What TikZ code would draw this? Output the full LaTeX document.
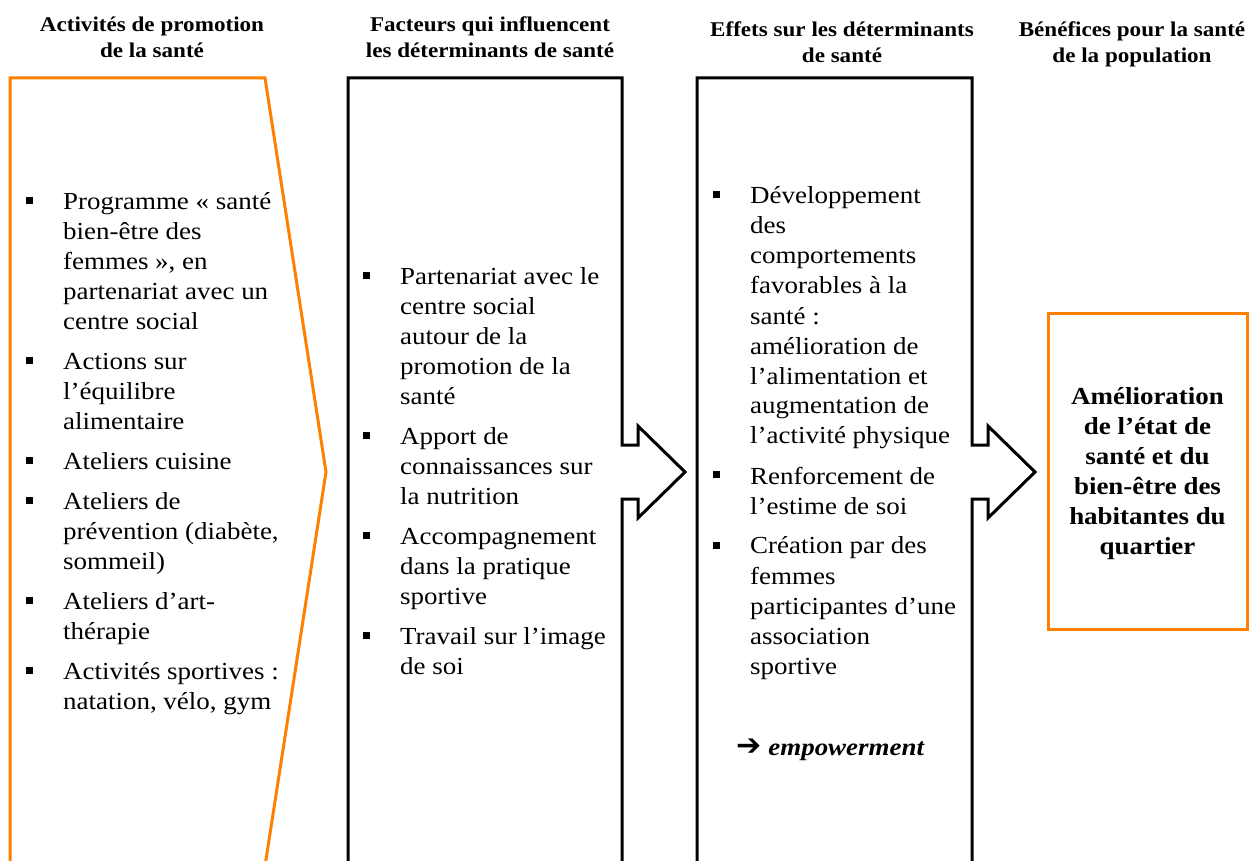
\documentclass[tikz,border=0pt]{standalone}
\usepackage{fontspec}
\setmainfont{Liberation Serif}[FakeStretch=1.1]
\newfontfamily\symfont{DejaVu Sans}
\definecolor{orng}{RGB}{255,128,0}
\newcommand{\bl}{\leavevmode\llap{\rule[5.5pt]{7pt}{7pt}\hspace{30.5pt}}}
\tikzset{
  shapeline/.style={line width=3pt, line join=miter},
  orangeline/.style={shapeline, draw=orng},
  blackline/.style={shapeline, draw=black},
  bodytxt/.style={inner sep=0pt, anchor=base west, font=\fontsize{24.5}{30}\selectfont},
  boldtxt/.style={inner sep=0pt, anchor=base, font=\fontsize{24.5}{30}\selectfont\bfseries},
  hdr/.style={inner sep=0pt, anchor=base, font=\fontsize{21}{26}\selectfont\bfseries},
}
\begin{document}
\begin{tikzpicture}[x=1pt,y=-1pt]
\useasboundingbox (0,0) rectangle (1252,861);
\clip (0,0) rectangle (1252,861);
\fill[white] (0,0) rectangle (1252,861);

% shapes
\draw[orangeline] (10,78) -- (265,78) -- (326,472) -- (265,866) -- (10,866) -- cycle;
\draw[blackline] (348,880) -- (348,78) -- (622,78) -- (622,445) -- (638,445) -- (638,426)
  -- (685,472) -- (638,518) -- (638,499) -- (622,499) -- (622,880);
\draw[blackline] (697,880) -- (697,78) -- (972,78) -- (972,445) -- (988,445) -- (988,426)
  -- (1035,472) -- (988,518) -- (988,499) -- (972,499) -- (972,880);
\draw[orangeline] (1048,313) rectangle (1247,629);

% headers
\node[hdr] (h1) at (152,32) {\parbox[t]{320pt}{\centering Activités de promotion\\ de la santé}};
\node[hdr] (h2) at (490,32) {\parbox[t]{320pt}{\centering Facteurs qui influencent\\ les déterminants de santé}};
\node[hdr] (h3) at (842,37) {\parbox[t]{320pt}{\centering Effets sur les déterminants\\ de santé}};
\node[hdr] (h4) at (1132,37) {\parbox[t]{320pt}{\centering Bénéfices pour la santé\\ de la population}};

% column 1
\node[bodytxt] (c1) at (63,209) {\parbox[t]{260pt}{%
\bl Programme « santé\\ bien-être des\\ femmes », en\\ partenariat avec un\\ centre social\\[10pt]
\bl Actions sur\\ l’équilibre\\ alimentaire\\[10pt]
\bl Ateliers cuisine\\[10pt]
\bl Ateliers de\\ prévention (diabète,\\ sommeil)\\[10pt]
\bl Ateliers d’art-\\ thérapie\\[10pt]
\bl Activités sportives :\\ natation, vélo, gym}};

% column 2
\node[bodytxt] (c2) at (400,284) {\parbox[t]{260pt}{%
\bl Partenariat avec le\\ centre social\\ autour de la\\ promotion de la\\ santé\\[10pt]
\bl Apport de\\ connaissances sur\\ la nutrition\\[10pt]
\bl Accompagnement\\ dans la pratique\\ sportive\\[10pt]
\bl Travail sur l’image\\ de soi}};

% column 3
\node[bodytxt] (c3) at (750,204) {\parbox[t]{260pt}{%
\bl Développement\\ des\\ comportements\\ favorables à la\\ santé :\\ amélioration de\\ l’alimentation et\\ augmentation de\\ l’activité physique\\[10pt]
\bl Renforcement de\\ l’estime de soi\\[10pt]
\bl Création par des\\ femmes\\ participantes d’une\\ association\\ sportive}};

\node[bodytxt] (emp) at (736,755) {{\symfont\bfseries\fontsize{30}{30}\selectfont ➔}\hspace{7pt}\textbf{\textit{empowerment}}};

% column 4
\node[boldtxt] (c4) at (1147.5,404) {\parbox[t]{195pt}{\centering Amélioration\\ de l’état de\\ santé et du\\ bien-être des\\ habitantes du\\ quartier}};
\end{tikzpicture}
\end{document}
